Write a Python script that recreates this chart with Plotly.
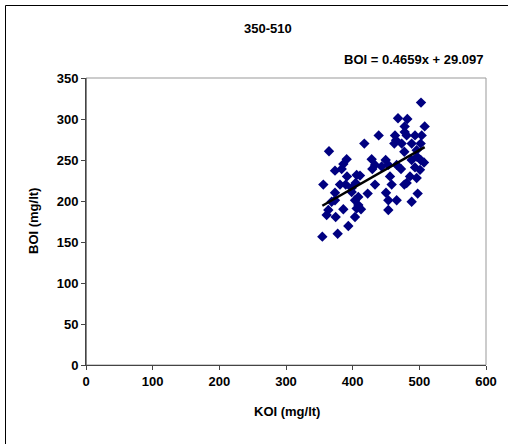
import plotly.graph_objects as go

koi = [502.5, 468, 482, 478, 508, 439, 463.5, 481, 493.5, 503.5,
       417.5, 462.5, 473.5, 488.5, 502, 364.5, 477.5, 496, 391, 428.5,
       449.5, 488.5, 502, 507, 386, 433.5, 443.5, 453.5, 466, 373.5,
       383.5, 429.5, 472.5, 493.5, 501, 406, 391.5, 411, 456, 486,
       496, 356, 381, 389.5, 404.5, 433.5, 458.5, 477.5, 481, 373.5,
       398.5, 422.5, 450, 497.5, 368.5, 403.5, 408.5, 453.5, 466, 488.5,
       363.5, 386, 406, 412.5, 453.5, 361, 374.5, 403.5, 393.5, 377.5,
       354.5, 398.5, 408.5, 465, 478, 496.5, 373.5]
boi = [320, 301, 300, 291, 291, 280, 280, 280, 280, 280,
       270, 270, 270, 270, 270, 260.6, 260, 262, 251, 251,
       250, 250, 250, 247, 245, 244, 242, 244, 244, 237,
       239, 239, 239, 241, 238, 231.7, 230, 231, 230, 230,
       228, 220, 220, 220, 222, 220, 220, 220, 222, 210,
       211, 209, 210, 209, 199, 201, 205, 201, 201, 199,
       189, 190, 191, 190, 189, 183, 180.5, 180.5, 169.5, 160,
       156.5, 216, 195, 274, 284, 254, 201]

slope = 0.4659
intercept = 29.097
fit_x = [min(koi), max(koi)]
fit_y = [slope * v + intercept for v in fit_x]

x_ticks = [0, 100, 200, 300, 400, 500, 600]
y_ticks = [0, 50, 100, 150, 200, 250, 300, 350]

FONT = "Liberation Sans, Arial, sans-serif"
L, R, T, B = 86, 22, 78, 79
W, H = 508, 444
PW, PH = W - L - R, H - T - B


def px(x):
    return (x - L) / PW


def py(y):
    return (H - B - y) / PH


fig = go.Figure()
fig.add_trace(go.Scatter(
    x=koi, y=boi, mode="markers",
    marker=dict(symbol="diamond", size=8, color="#000080",
                line=dict(width=0)),
    showlegend=False, hoverinfo="skip"))
fig.add_trace(go.Scatter(
    x=fit_x, y=fit_y, mode="lines",
    line=dict(color="black", width=2.5),
    showlegend=False, hoverinfo="skip"))

tickfont = dict(family=FONT, size=13, color="black", weight="bold")
fig.update_layout(
    width=W, height=H,
    margin=dict(l=L, r=R, t=T, b=B),
    paper_bgcolor="white", plot_bgcolor="white",
    font=dict(family=FONT, size=13, color="black"),
    xaxis=dict(range=[0, 600], tickvals=x_ticks, ticks="outside",
               ticklen=4, tickcolor="#444", showgrid=False, zeroline=False,
               showline=True, linecolor="#444", linewidth=1,
               tickfont=tickfont),
    yaxis=dict(range=[0, 350], tickvals=y_ticks, ticks="outside",
               ticklen=4, tickcolor="#444", showgrid=False, zeroline=False,
               showline=True, linecolor="#444", linewidth=1,
               tickfont=tickfont),
    shapes=[
        dict(type="rect", xref="paper", yref="paper", x0=0, x1=1, y0=0, y1=1,
             line=dict(color="#999", width=1), layer="below"),
        dict(type="line", xref="paper", yref="paper", x0=0, x1=0, y0=0, y1=1,
             line=dict(color="#444", width=1)),
        dict(type="line", xref="paper", yref="paper",
             x0=px(5.5), x1=px(508), y0=py(5.5), y1=py(5.5),
             line=dict(color="black", width=1)),
        dict(type="line", xref="paper", yref="paper",
             x0=px(5.5), x1=px(5.5), y0=py(5.5), y1=py(444),
             line=dict(color="black", width=1)),
    ],
    annotations=[
        dict(text="<b>350-510</b>", xref="paper", yref="paper",
             x=px(268), y=py(28), showarrow=False,
             xanchor="center", yanchor="middle",
             font=dict(family=FONT, size=13)),
        dict(text="<b>BOI = 0.4659x + 29.097</b>", xref="paper", yref="paper",
             x=px(486), y=py(59), showarrow=False,
             xanchor="right", yanchor="middle",
             font=dict(family=FONT, size=13)),
        dict(text="<b>KOI (mg/lt)</b>", xref="paper", yref="paper",
             x=px(287), y=py(411), showarrow=False,
             xanchor="center", yanchor="middle",
             font=dict(family=FONT, size=13)),
        dict(text="<b>BOI (mg/lt)</b>", xref="paper", yref="paper",
             x=px(33), y=py(221), showarrow=False, textangle=-90,
             xanchor="center", yanchor="middle",
             font=dict(family=FONT, size=13)),
    ],
)

fig.write_html("out.html", config={"displayModeBar": False},
               post_script="document.body.style.margin='0';document.body.style.overflow='hidden';")
